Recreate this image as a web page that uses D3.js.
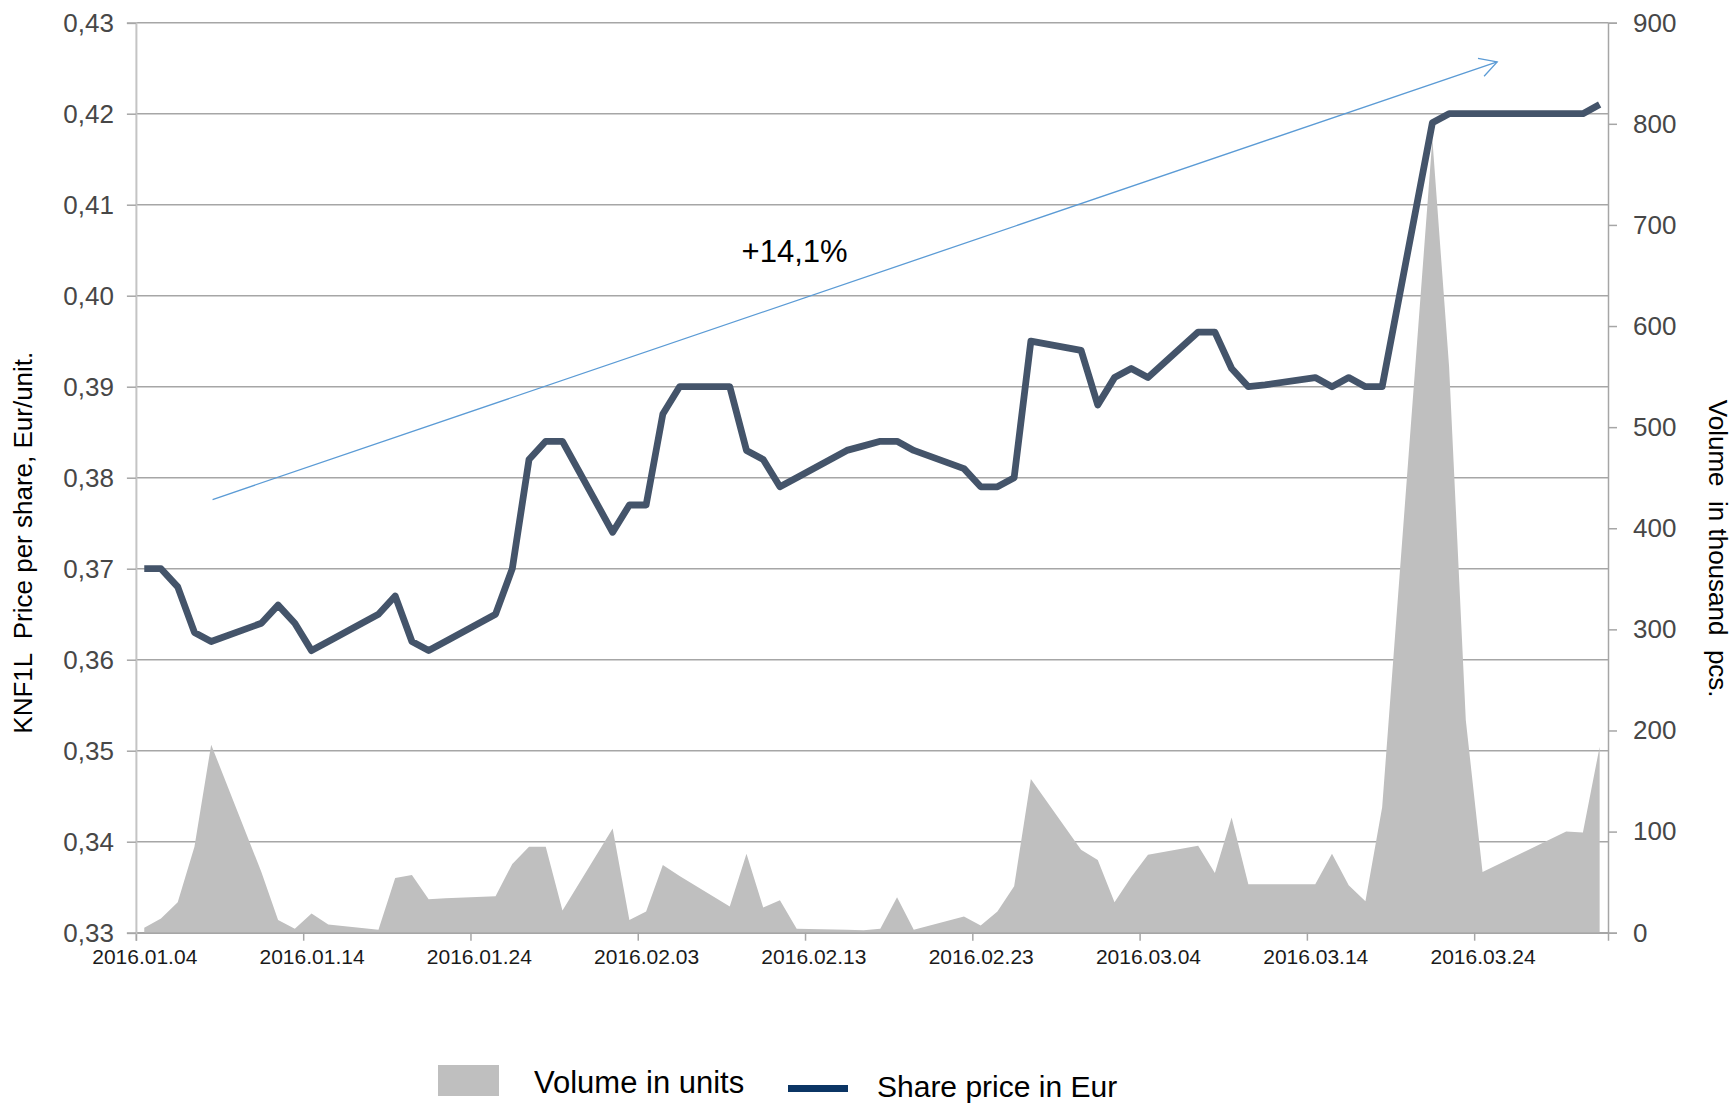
<!DOCTYPE html>
<html>
<head>
<meta charset="utf-8">
<script src="https://cdn.jsdelivr.net/npm/d3@7"></script>
<style>
  html, body { margin: 0; padding: 0; background: #fff; }
  svg { display: block; font-family: "Liberation Sans", Arial, sans-serif; }
</style>
</head>
<body>
<svg id="chart" width="1735" height="1105"></svg>
<script>
// ---------------- DATA ----------------
const tradingDays = [
  "2016-01-04","2016-01-05","2016-01-06","2016-01-07","2016-01-08",
  "2016-01-11","2016-01-12","2016-01-13","2016-01-14","2016-01-15",
  "2016-01-18","2016-01-19","2016-01-20","2016-01-21","2016-01-22",
  "2016-01-25","2016-01-26","2016-01-27","2016-01-28","2016-01-29",
  "2016-02-01","2016-02-02","2016-02-03","2016-02-04","2016-02-05",
  "2016-02-08","2016-02-09","2016-02-10","2016-02-11","2016-02-12",
  "2016-02-15","2016-02-16","2016-02-17","2016-02-18","2016-02-19",
  "2016-02-22","2016-02-23","2016-02-24","2016-02-25","2016-02-26",
  "2016-02-29","2016-03-01","2016-03-02","2016-03-03","2016-03-04",
  "2016-03-07","2016-03-08","2016-03-09","2016-03-10","2016-03-11",
  "2016-03-14","2016-03-15","2016-03-16","2016-03-17","2016-03-18",
  "2016-03-21","2016-03-22","2016-03-23","2016-03-24",
  "2016-03-29","2016-03-30","2016-03-31"
];
const sharePrice = [
  0.370,0.370,0.368,0.363,0.362,
  0.364,0.366,0.364,0.361,0.362,
  0.365,0.367,0.362,0.361,0.362,
  0.365,0.370,0.382,0.384,0.384,
  0.374,0.377,0.377,0.387,0.390,
  0.390,0.383,0.382,0.379,0.380,
  0.383,0.3835,0.384,0.384,0.383,
  0.381,0.379,0.379,0.380,0.395,
  0.394,0.388,0.391,0.392,0.391,
  0.396,0.396,0.392,0.390,0.3902,
  0.391,0.390,0.391,0.390,0.390,
  0.419,0.420,0.420,0.420,
  0.420,0.420,0.421
];
// volume in thousand pcs
const volume = [
  5,14,30,85,186,
  60,12.5,4,19,8,
  3,54,57,33,34,
  36,68,85,85,22,
  103,12.5,21,67,56,
  26,78,25,32,4,
  3,2.5,4,35,3,
  16,7,21,46,152,
  82,72,30,55,77,
  86,59,114,48,48,
  48,78,47,31,124,
  785,560,210,60,
  100,99,184
];
const xTickLabels = ["2016.01.04","2016.01.14","2016.01.24","2016.02.03","2016.02.13",
                     "2016.02.23","2016.03.04","2016.03.14","2016.03.24"];
const priceTicks = [0.33,0.34,0.35,0.36,0.37,0.38,0.39,0.40,0.41,0.42,0.43];
const volumeTicks = [0,100,200,300,400,500,600,700,800,900];
const seriesNames = ["Volume in units", "Share price in Eur"];
const axisTitles = ["KNF1L  Price per share, Eur/unit.", "Volume  in thousand  pcs."];
// trend annotation: [date, price]
const trendStart = ["2016-01-08T14:00", 0.3776];
const trendEnd   = ["2016-03-25T09:00", 0.4257];
const trendLabel = "+14,1%";
const trendLabelPos = ["2016-02-12T09:00", 0.4037];

// ---------------- LAYOUT ----------------
const plot = { left: 135.9, right: 1608, top: 22.7, bottom: 932.7 };
const svg = d3.select("#chart");

const parseDay = d3.utcParse("%Y-%m-%d");
const parseTime = d3.utcParse("%Y-%m-%dT%H:%M");
const parseTick = d3.utcParse("%Y.%m.%d");

const x = d3.scaleUtc()
  .domain([parseDay("2016-01-04"), parseDay("2016-04-01")])
  .range([plot.left, plot.right]);
const yL = d3.scaleLinear().domain([0.33, 0.43]).range([plot.bottom, plot.top]);
const yR = d3.scaleLinear().domain([0, 900]).range([plot.bottom, plot.top]);

const halfDay = (x(parseDay("2016-01-05")) - x(parseDay("2016-01-04"))) / 2;

const data = tradingDays.map((d, i) => ({
  date: d3.utcHour.offset(parseDay(d), 12),
  price: sharePrice[i],
  vol: volume[i]
}));

const commaFmt = d3.formatLocale({decimal: ",", thousands: " ", grouping: [3], currency: ["", "€"]});
const fmtPrice = commaFmt.format(".2f");

// ---------------- GRIDLINES ----------------
svg.append("g")
  .selectAll("line")
  .data(priceTicks)
  .join("line")
  .attr("x1", plot.left).attr("x2", plot.right)
  .attr("y1", d => yL(d)).attr("y2", d => yL(d))
  .attr("stroke", "#a6a6a6").attr("stroke-width", 1.5);

// ---------------- VOLUME AREA ----------------
const area = d3.area()
  .x(d => x(d.date))
  .y0(yR(0))
  .y1(d => yR(d.vol));
svg.append("path")
  .datum(data)
  .attr("d", area)
  .attr("fill", "#bfbfbf");

// ---------------- AXES ----------------
const xAxis = d3.axisBottom(x)
  .tickValues(xTickLabels.map(parseTick))
  .tickFormat((d, i) => xTickLabels[i])
  .tickSize(8).tickPadding(8);
const gx = svg.append("g")
  .attr("transform", `translate(0,${plot.bottom})`)
  .call(xAxis);
gx.select(".domain").attr("stroke", "#a6a6a6").attr("stroke-width", 1.5);
gx.selectAll(".tick line").attr("stroke", "#a6a6a6").attr("stroke-width", 1.5);
gx.selectAll(".tick text")
  .attr("x", halfDay)
  .attr("fill", "#1a1a1a")
  .style("font-size", "21px")
  .style("font-family", "'Liberation Sans', Arial, sans-serif");

const yAxisL = d3.axisLeft(yL)
  .tickValues(priceTicks)
  .tickFormat(fmtPrice)
  .tickSize(9).tickPadding(13);
const gyl = svg.append("g")
  .attr("transform", `translate(${plot.left},0)`)
  .call(yAxisL);
gyl.select(".domain").attr("stroke", "#c4c4c4").attr("stroke-width", 2);
gyl.selectAll(".tick line").attr("stroke", "#a6a6a6").attr("stroke-width", 1.5);
gyl.selectAll(".tick text")
  .attr("fill", "#474747")
  .style("font-size", "26px")
  .style("font-family", "'Liberation Sans', Arial, sans-serif");

const yAxisR = d3.axisRight(yR)
  .tickValues(volumeTicks)
  .tickFormat(d3.format("d"))
  .tickSize(9).tickPadding(16);
const gyr = svg.append("g")
  .attr("transform", `translate(${plot.right},0)`)
  .call(yAxisR);
gyr.select(".domain").attr("stroke", "#a6a6a6").attr("stroke-width", 1.5);
gyr.selectAll(".tick line").attr("stroke", "#a6a6a6").attr("stroke-width", 1.5);
gyr.selectAll(".tick text")
  .attr("fill", "#474747")
  .style("font-size", "26px")
  .style("font-family", "'Liberation Sans', Arial, sans-serif");

// ---------------- PRICE LINE ----------------
const line = d3.line()
  .x(d => x(d.date))
  .y(d => yL(d.price));
svg.append("path")
  .datum(data)
  .attr("d", line)
  .attr("fill", "none")
  .attr("stroke", "#44546a")
  .attr("stroke-width", 6.8)
  .attr("stroke-linejoin", "round")
  .attr("stroke-linecap", "butt");

// ---------------- TREND ARROW ----------------
const ax1 = x(parseTime(trendStart[0])), ay1 = yL(trendStart[1]);
const ax2 = x(parseTime(trendEnd[0])), ay2 = yL(trendEnd[1]);
const ang = Math.atan2(ay1 - ay2, ax1 - ax2);
const armLen = 19.5, armAng = 29 * Math.PI / 180;
const arrow = svg.append("g").attr("stroke", "#5b9bd5").attr("stroke-width", 1.3).attr("fill", "none");
arrow.append("line").attr("x1", ax1).attr("y1", ay1).attr("x2", ax2).attr("y2", ay2);
arrow.append("path")
  .attr("d", `M${ax2 + armLen * Math.cos(ang + armAng)},${ay2 + armLen * Math.sin(ang + armAng)}L${ax2},${ay2}L${ax2 + armLen * Math.cos(ang - armAng)},${ay2 + armLen * Math.sin(ang - armAng)}`);

svg.append("text")
  .attr("x", x(parseTime(trendLabelPos[0])))
  .attr("y", yL(trendLabelPos[1]))
  .attr("text-anchor", "middle")
  .attr("fill", "#000")
  .style("font-size", "31px")
  .text(trendLabel);

// ---------------- AXIS TITLES ----------------
svg.append("text")
  .attr("transform", `translate(32,${(plot.top + plot.bottom) / 2 + 65}) rotate(-90)`)
  .attr("text-anchor", "middle")
  .attr("fill", "#000")
  .style("font-size", "26px")
  .style("white-space", "pre")
  .attr("xml:space", "preserve")
  .text(axisTitles[0]);

svg.append("text")
  .attr("transform", `translate(1709,${(plot.top + plot.bottom) / 2 + 71}) rotate(90)`)
  .attr("text-anchor", "middle")
  .attr("fill", "#000")
  .style("font-size", "26px")
  .style("white-space", "pre")
  .attr("xml:space", "preserve")
  .text(axisTitles[1]);

// ---------------- LEGEND ----------------
const legend = svg.append("g");
legend.append("rect")
  .attr("x", 438).attr("y", 1065).attr("width", 61).attr("height", 31)
  .attr("fill", "#bfbfbf");
legend.append("text")
  .attr("x", 534).attr("y", 1093)
  .attr("fill", "#000")
  .style("font-size", "31px")
  .text(seriesNames[0]);
legend.append("rect")
  .attr("x", 788).attr("y", 1085).attr("width", 60).attr("height", 7)
  .attr("fill", "#0b3564");
legend.append("text")
  .attr("x", 877).attr("y", 1097)
  .attr("fill", "#000")
  .style("font-size", "30px")
  .text(seriesNames[1]);
</script>
</body>
</html>
